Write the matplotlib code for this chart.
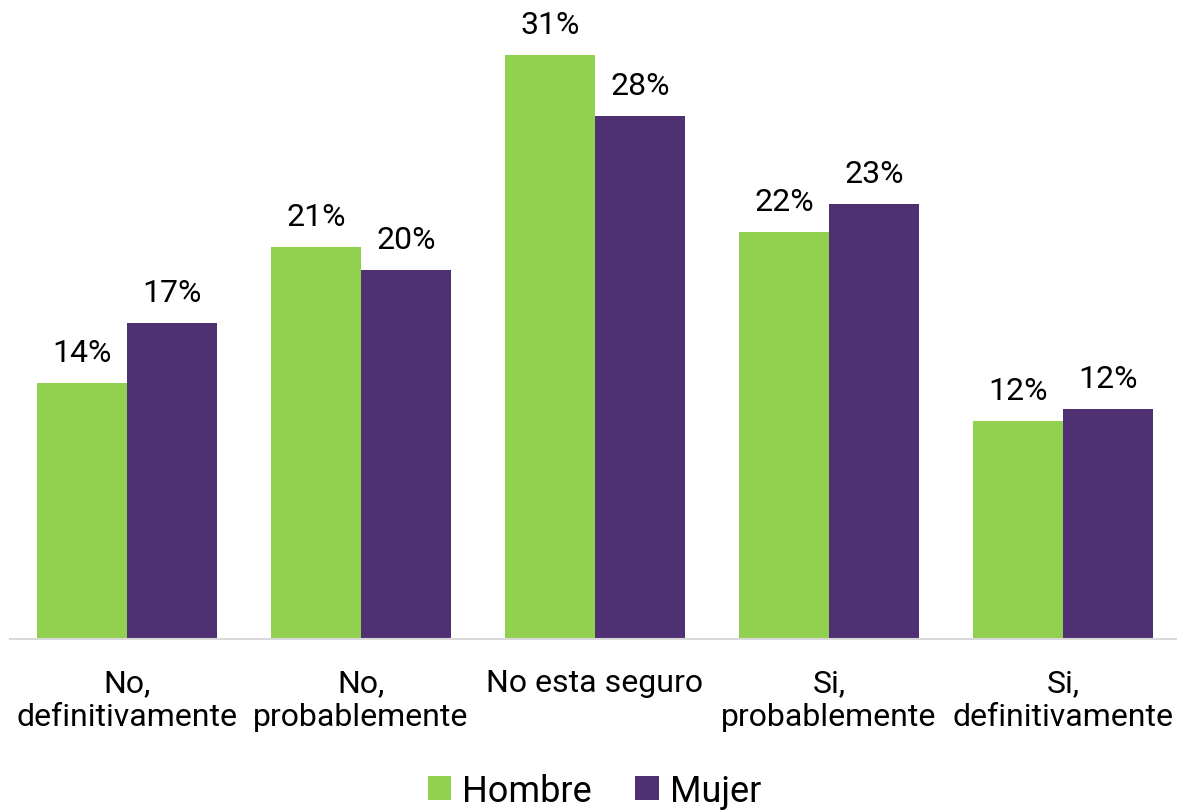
import numpy as np
import matplotlib.pyplot as plt

plt.rcParams['font.family'] = ['Roboto', 'DejaVu Sans']

categorias = ["No,\ndefinitivamente", "No,\nprobablemente", "No esta seguro",
              "Si,\nprobablemente", "Si,\ndefinitivamente"]
hombre = [13.6, 20.8, 31.0, 21.6, 11.6]
mujer = [16.8, 19.6, 27.8, 23.1, 12.2]

verde = "#92D050"
morado = "#4F3173"

fig = plt.figure(figsize=(11.77, 8.12), dpi=100)
ax = fig.add_axes([10 / 1177, 1 - 640 / 812, 1170 / 1177, 640 / 812])

x = np.arange(len(categorias))
w = 0.385
b1 = ax.bar(x - w / 2, hombre, w, color=verde, label="Hombre")
b2 = ax.bar(x + w / 2, mujer, w, color=morado, label="Mujer")

for barras, vals in ((b1, hombre), (b2, mujer)):
    for r, v in zip(barras, vals):
        ax.text(r.get_x() + r.get_width() / 2, v + 0.85, f"{v:.0f}%",
                ha="center", va="bottom", fontsize=23)

ax.set_xlim(-0.5, 4.5)
ax.set_ylim(0, 34.0)
ax.set_xticks(x)
ax.set_xticklabels(categorias, fontsize=23, linespacing=1.2)
ax.tick_params(axis="x", length=0, pad=21)
ax.set_yticks([])
for s in ("top", "right", "left"):
    ax.spines[s].set_visible(False)
ax.spines["bottom"].set_color("#D9D9D9")
ax.spines["bottom"].set_linewidth(1.5)

fig.legend(loc="center", bbox_to_anchor=(0.505, 20 / 812),
           ncol=2, frameon=False, fontsize=26, handlelength=0.65, handleheight=0.65,
           handletextpad=0.3, columnspacing=1.2)

fig.savefig("out.png", dpi=100)
